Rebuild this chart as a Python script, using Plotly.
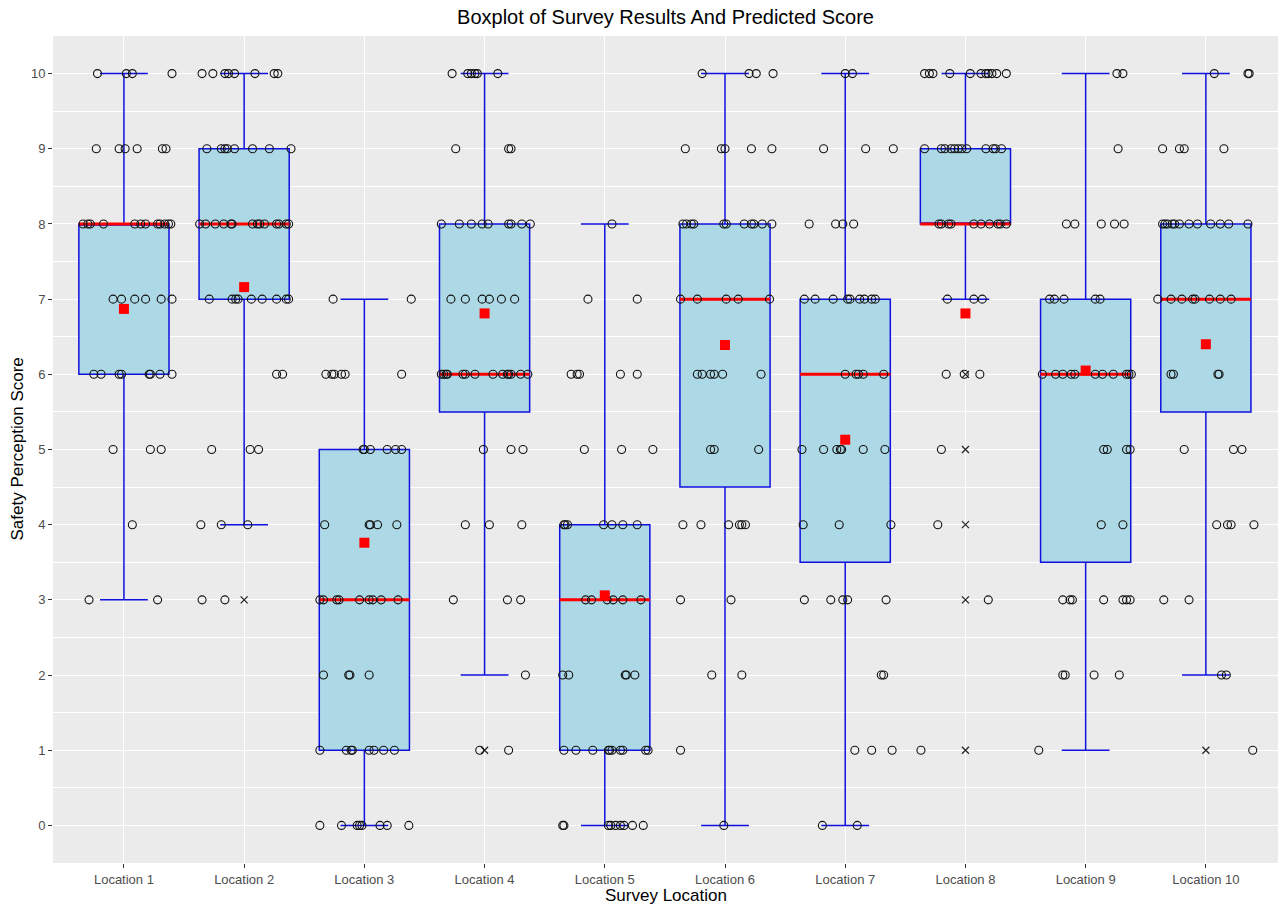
import plotly.graph_objects as go

# ---------------- data ----------------
locations = ["Location 1", "Location 2", "Location 3", "Location 4", "Location 5",
             "Location 6", "Location 7", "Location 8", "Location 9", "Location 10"]

q1 = [6, 7, 1, 5.5, 1, 4.5, 3.5, 8, 3.5, 5.5]
median = [8, 8, 3, 6, 3, 7, 6, 8, 6, 7]
q3 = [8, 9, 5, 8, 4, 8, 7, 9, 7, 8]
lower_whisker = [3, 4, 0, 2, 0, 0, 0, 7, 1, 2]
upper_whisker = [10, 10, 7, 10, 8, 10, 10, 10, 10, 10]
predicted_score = [6.87, 7.16, 3.76, 6.81, 3.06, 6.39, 5.13, 6.81, 6.05, 6.40]

outlier_location = [2, 4, 8, 8, 8, 8, 8, 10]
outlier_score = [3, 1, 6, 5, 4, 3, 1, 1]

# survey responses: score -> horizontal jitter offsets of each response
location_1 = {10: [-0.22, 0.02, 0.07, 0.40],
              9: [-0.23, -0.04, 0.01, 0.11, 0.32, 0.35],
              8: [-0.34, -0.30, -0.28, -0.17, 0.09, 0.14, 0.18, 0.28, 0.30, 0.34, 0.37, 0.39],
              7: [-0.09, -0.02, 0.09, 0.18, 0.31, 0.40],
              6: [-0.25, -0.19, -0.04, -0.02, 0.21, 0.22, 0.30, 0.40],
              5: [-0.09, 0.22, 0.31],
              4: [0.07],
              3: [-0.29, 0.28]}
location_2 = {10: [-0.35, -0.26, -0.16, -0.13, -0.08, 0.09, 0.25, 0.28],
              9: [-0.31, -0.19, -0.16, -0.14, -0.08, 0.07, 0.21, 0.39],
              8: [-0.37, -0.32, -0.24, -0.17, -0.11, -0.10, 0.07, 0.11, 0.13, 0.17, 0.27, 0.29, 0.35, 0.37],
              7: [-0.29, -0.10, -0.07, -0.05, 0.06, 0.15, 0.27, 0.35, 0.37],
              6: [0.27, 0.32],
              5: [-0.27, 0.05, 0.12],
              4: [-0.36, -0.19, 0.03],
              3: [-0.35, -0.16]}
location_3 = {7: [-0.26, 0.39],
              6: [-0.32, -0.27, -0.25, -0.19, -0.16, 0.31],
              5: [-0.01, 0.00, 0.05, 0.19, 0.26, 0.31],
              4: [-0.33, 0.04, 0.05, 0.11, 0.27],
              3: [-0.37, -0.34, -0.23, -0.21, -0.04, 0.04, 0.07, 0.14, 0.28],
              2: [-0.34, -0.13, -0.12, 0.04],
              1: [-0.37, -0.15, -0.11, -0.10, 0.04, 0.08, 0.16, 0.25],
              0: [-0.37, -0.19, -0.06, -0.04, -0.02, 0.13, 0.19, 0.37]}
location_4 = {10: [-0.27, -0.14, -0.11, -0.08, -0.06, 0.11],
              9: [-0.24, 0.20, 0.22],
              8: [-0.36, -0.21, -0.11, -0.02, 0.03, 0.20, 0.22, 0.31, 0.38],
              7: [-0.28, -0.16, -0.02, 0.04, 0.14, 0.25],
              6: [-0.36, -0.34, -0.32, -0.31, -0.18, -0.16, -0.08, 0.07, 0.15, 0.19, 0.20, 0.22, 0.30, 0.36],
              5: [-0.01, 0.22, 0.32],
              4: [-0.16, 0.04, 0.31],
              3: [-0.26, 0.19, 0.30],
              2: [0.34],
              1: [-0.04, 0.20]}
location_5 = {8: [0.06],
              7: [-0.14, 0.27],
              6: [-0.28, -0.23, -0.21, 0.13, 0.27],
              5: [-0.17, 0.14, 0.40],
              4: [-0.34, -0.33, -0.31, -0.01, 0.06, 0.15, 0.27],
              3: [-0.16, -0.11, 0.02, 0.07, 0.15, 0.30],
              2: [-0.35, -0.30, 0.17, 0.18, 0.25],
              1: [-0.34, -0.24, -0.10, 0.03, 0.04, 0.06, 0.13, 0.15, 0.34, 0.36],
              0: [-0.35, -0.34, 0.03, 0.05, 0.09, 0.13, 0.16, 0.23, 0.32]}
location_6 = {10: [-0.19, 0.20, 0.26, 0.40],
              9: [-0.33, -0.03, 0.00, 0.22, 0.39],
              8: [-0.35, -0.32, -0.28, -0.26, -0.01, 0.01, 0.16, 0.22, 0.24, 0.31, 0.39],
              7: [-0.37, -0.23, 0.01, 0.11, 0.37],
              6: [-0.23, -0.19, -0.12, -0.09, -0.02, 0.30],
              5: [-0.12, -0.09, 0.28],
              4: [-0.35, -0.20, 0.03, 0.12, 0.14, 0.17],
              3: [-0.37, 0.05],
              2: [-0.11, 0.14],
              1: [-0.37],
              0: [-0.01]}
location_7 = {10: [0.00, 0.06],
              9: [-0.18, 0.17, 0.40],
              8: [-0.30, -0.08, -0.02, 0.07],
              7: [-0.34, -0.25, -0.10, 0.02, 0.04, 0.12, 0.16, 0.22, 0.25],
              6: [0.00, 0.09, 0.11, 0.15, 0.32],
              5: [-0.36, -0.18, -0.07, -0.04, -0.03, 0.15, 0.33],
              4: [-0.35, -0.05, 0.38],
              3: [-0.34, -0.12, -0.02, 0.02, 0.34],
              2: [0.30, 0.32],
              1: [0.08, 0.22, 0.39],
              0: [-0.19, 0.10]}
location_8 = {10: [-0.34, -0.30, -0.27, -0.13, 0.04, 0.13, 0.17, 0.19, 0.22, 0.26, 0.34],
              9: [-0.34, -0.20, -0.17, -0.12, -0.09, -0.06, -0.03, 0.01, 0.17, 0.23, 0.25, 0.30],
              8: [-0.22, -0.20, -0.14, -0.12, 0.07, 0.13, 0.20, 0.27, 0.29, 0.34],
              7: [-0.15, 0.07, 0.14],
              6: [-0.16, -0.01, 0.12],
              5: [-0.20],
              4: [-0.23],
              3: [0.19],
              1: [-0.37]}
location_9 = {10: [0.26, 0.31],
              9: [0.27],
              8: [-0.16, -0.09, 0.13, 0.24, 0.32],
              7: [-0.30, -0.26, -0.18, 0.08, 0.12],
              6: [-0.36, -0.25, -0.19, -0.12, -0.09, 0.08, 0.14, 0.23, 0.34, 0.36, 0.38],
              5: [0.15, 0.18, 0.34, 0.37],
              4: [0.13, 0.31],
              3: [-0.19, -0.13, -0.11, 0.15, 0.31, 0.34, 0.37],
              2: [-0.19, -0.17, 0.07, 0.28],
              1: [-0.39]}
location_10 = {10: [0.07, 0.35, 0.36],
               9: [-0.36, -0.22, -0.18, 0.15],
               8: [-0.36, -0.34, -0.32, -0.28, -0.26, -0.22, -0.14, -0.07, 0.04, 0.12, 0.19, 0.35],
               7: [-0.40, -0.29, -0.20, -0.11, -0.09, 0.03, 0.12, 0.21],
               6: [-0.29, -0.27, 0.10, 0.11],
               5: [-0.18, 0.23, 0.30],
               4: [0.09, 0.18, 0.21, 0.40],
               3: [-0.35, -0.14],
               2: [0.13, 0.17],
               1: [0.39]}

survey_points = [location_1, location_2, location_3, location_4, location_5,
                 location_6, location_7, location_8, location_9, location_10]

# ---------------- figure ----------------
positions = list(range(1, len(locations) + 1))
BOX_WIDTH = 0.75

fig = go.Figure()

fig.add_trace(go.Box(
    x=positions, q1=q1, median=median, q3=q3,
    lowerfence=lower_whisker, upperfence=upper_whisker,
    width=BOX_WIDTH, whiskerwidth=0.53,
    fillcolor="#ADD8E6", line=dict(color="#1010E0", width=1.5),
    boxpoints=False, hoverinfo="skip", showlegend=False,
))

# red median lines
mx, my = [], []
for p, m in zip(positions, median):
    mx += [p - BOX_WIDTH / 2, p + BOX_WIDTH / 2, None]
    my += [m, m, None]
fig.add_trace(go.Scatter(x=mx, y=my, mode="lines",
                         line=dict(color="#FF0000", width=3),
                         hoverinfo="skip", showlegend=False))

# boxplot outliers
fig.add_trace(go.Scatter(x=outlier_location, y=outlier_score, mode="markers",
                         marker=dict(symbol="x-thin-open", size=7, color="#222222",
                                     line=dict(color="#222222", width=1.2)),
                         hoverinfo="skip", showlegend=False))

# jittered survey responses
px, py = [], []
for p, pts in zip(positions, survey_points):
    for score, offsets in pts.items():
        for off in offsets:
            px.append(p + off)
            py.append(score)
fig.add_trace(go.Scatter(x=px, y=py, mode="markers",
                         marker=dict(symbol="circle-open", size=8, color="#111111",
                                     line=dict(color="#111111", width=1.1)),
                         hoverinfo="skip", showlegend=False))

# predicted score
fig.add_trace(go.Scatter(x=positions, y=predicted_score, mode="markers",
                         marker=dict(symbol="square", size=10, color="#FF0000"),
                         hoverinfo="skip", showlegend=False))

fig.update_layout(
    width=1279, height=907,
    margin=dict(l=53, r=1, t=36, b=44, autoexpand=False),
    paper_bgcolor="white", plot_bgcolor="#EBEBEB",
    font=dict(family="Liberation Sans, Arial, sans-serif", color="#000000"),
    title=dict(text="Boxplot of Survey Results And Predicted Score",
               x=665.5 / 1279, xanchor="center", y=1 - 17 / 907, yref="container",
               yanchor="middle", font=dict(size=20, color="#000000")),
    showlegend=False,
    annotations=[
        dict(text="Survey Location", xref="paper", yref="paper", x=0.5, y=0,
             xanchor="center", yanchor="middle", yshift=-32, showarrow=False,
             font=dict(size=17, color="#000000")),
        dict(text="Safety Perception Score", xref="paper", yref="paper", x=0, y=0.5,
             xanchor="center", yanchor="middle", xshift=-36, textangle=-90,
             showarrow=False, font=dict(size=17, color="#000000")),
    ],
)
fig.update_xaxes(
    range=[0.41, 10.6], tickmode="array", tickvals=positions, ticktext=locations,
    showgrid=True, gridcolor="white", gridwidth=1.2, zeroline=False, automargin=False,
    ticks="outside", ticklen=4, tickcolor="#333333", tickwidth=1,
    tickfont=dict(size=13, color="#4D4D4D"),
)
fig.update_yaxes(
    range=[-0.5, 10.5], tickmode="linear", tick0=0, dtick=1,
    showgrid=True, gridcolor="white", gridwidth=1.2, zeroline=False, automargin=False,
    minor=dict(dtick=0.5, tick0=0, showgrid=True, gridcolor="white", gridwidth=0.6, ticks=""),
    ticks="outside", ticklen=4, tickcolor="#333333", tickwidth=1,
    tickfont=dict(size=13, color="#4D4D4D"),
)

fig.write_html("out.html", config={"displayModeBar": False},
               post_script="document.body.style.margin='0';document.body.style.overflow='hidden';")
